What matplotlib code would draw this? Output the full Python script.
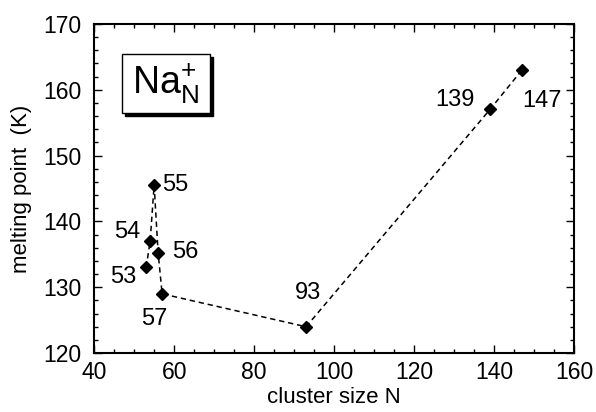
import matplotlib
matplotlib.use("Agg")
import matplotlib.pyplot as plt
from matplotlib.patches import Rectangle
from matplotlib.ticker import MultipleLocator

plt.rcParams['font.family'] = ['Liberation Sans', 'DejaVu Sans']
plt.rcParams['mathtext.fontset'] = 'custom'
plt.rcParams['mathtext.rm'] = 'Liberation Sans'
plt.rcParams['mathtext.it'] = 'Liberation Sans'

# Melting points of Na_N^+ clusters
cluster_size = [53, 54, 55, 56, 57, 93, 139, 147]
melting_point = [133.0, 137.0, 145.5, 135.2, 129.0, 124.0, 157.0, 163.0]
labels = ["53", "54", "55", "56", "57", "93", "139", "147"]

# label offsets (points) and alignment for each point
offsets = [(-7, -7), (-7, 6.5), (6, 0), (10, 0.5), (-6, -18), (1.5, 24), (-11, 6.5), (0, -22)]
aligns = ["right", "right", "left", "left", "center", "center", "right", "left"]

fig = plt.figure(figsize=(5.96, 4.12), dpi=100)
ax = fig.add_axes([0.158, 0.143, 0.805, 0.799])

ax.plot(cluster_size, melting_point, linestyle=(0, (3.5, 2.5)), color='black',
        linewidth=1.1, marker='D', markersize=6, markerfacecolor='black',
        markeredgecolor='black')

for x, y, lab, off, ha in zip(cluster_size, melting_point, labels, offsets, aligns):
    ax.annotate(lab, (x, y), xytext=off, textcoords='offset points',
                ha=ha, va='center', fontsize=17)

ax.set_xlim(40, 160)
ax.set_ylim(120, 170)
ax.xaxis.set_major_locator(MultipleLocator(20))
ax.xaxis.set_minor_locator(MultipleLocator(5))
ax.yaxis.set_major_locator(MultipleLocator(10))
ax.yaxis.set_minor_locator(MultipleLocator(2))
ax.tick_params(which='both', direction='in', top=True, right=True, width=1.0)
ax.tick_params(axis='y', which='major', length=6, labelsize=16.5, pad=9)
ax.tick_params(axis='x', which='major', length=6, labelsize=16.5, pad=6)
ax.tick_params(which='minor', length=3)
for s in ax.spines.values():
    s.set_linewidth(1.5)

ax.set_xlabel("cluster size N", fontsize=16, labelpad=2)
ax.set_ylabel("melting point  (K)", fontsize=16, labelpad=8)

# inset box with drop shadow
bx, by, bw, bh = 0.058, 0.729, 0.183, 0.180
ax.add_patch(Rectangle((bx + 0.006, by - 0.009), bw, bh, transform=ax.transAxes,
                       facecolor='black', edgecolor='black', zorder=4))
ax.add_patch(Rectangle((bx, by), bw, bh, transform=ax.transAxes,
                       facecolor='white', edgecolor='black', linewidth=1.0, zorder=5))
ax.text(bx + bw / 2, by + bh / 2, r'$\mathrm{Na}_{\mathrm{N}}^{+}$', transform=ax.transAxes,
        ha='center', va='center', fontsize=27, zorder=6)

fig.savefig("out.png", dpi=100)
